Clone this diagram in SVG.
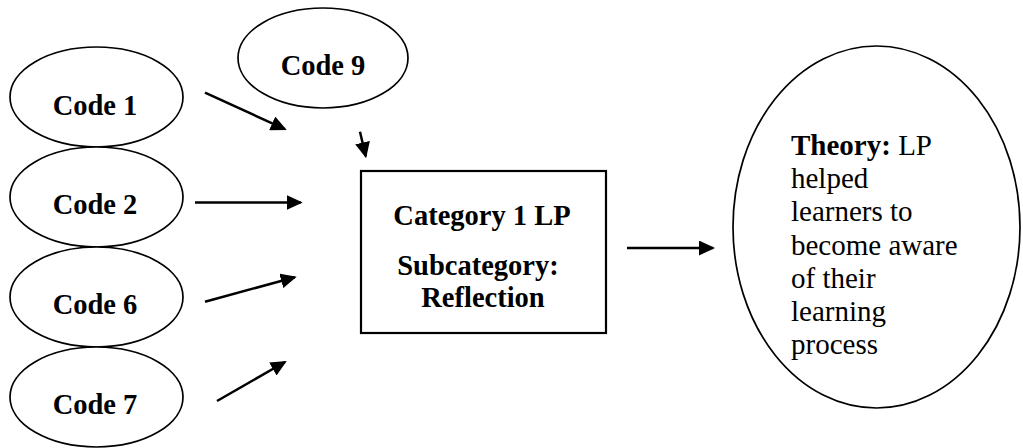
<svg xmlns="http://www.w3.org/2000/svg" width="1023" height="448" viewBox="0 0 1023 448">
  <style>
    .node { fill: #ffffff; stroke: #000000; stroke-width: 1.7; }
    .box { fill: #ffffff; stroke: #000000; stroke-width: 2.2; }
    .lbl { font-family: "Liberation Serif", "Times New Roman", serif; font-size: 28.5px; font-weight: bold; fill: #000000; }
    .th { font-family: "Liberation Serif", "Times New Roman", serif; font-size: 29px; fill: #000000; }
    .conn line { stroke: #000000; stroke-width: 2.5; }
  </style>
  <defs>
    <marker id="arrow" viewBox="0 0 16 15" refX="14" refY="7.5" markerWidth="16" markerHeight="15" markerUnits="userSpaceOnUse" orient="auto">
      <path d="M0,0 L16,7.5 L0,15 Z" fill="#000000"/>
    </marker>
  </defs>
  <rect width="1023" height="448" fill="#ffffff"/>

  <g id="code1">
    <ellipse class="node" cx="96.5" cy="97" rx="86.5" ry="50"/>
    <text class="lbl" x="95" y="114.5" text-anchor="middle">Code 1</text>
  </g>
  <g id="code2">
    <ellipse class="node" cx="96.5" cy="197" rx="86.5" ry="50"/>
    <text class="lbl" x="95" y="213.5" text-anchor="middle">Code 2</text>
  </g>
  <g id="code6">
    <ellipse class="node" cx="96.5" cy="297" rx="86.5" ry="50"/>
    <text class="lbl" x="95" y="313.5" text-anchor="middle">Code 6</text>
  </g>
  <g id="code7">
    <ellipse class="node" cx="96.5" cy="397" rx="86.5" ry="50"/>
    <text class="lbl" x="95" y="413.5" text-anchor="middle">Code 7</text>
  </g>
  <g id="code9">
    <ellipse class="node" cx="323" cy="58" rx="85" ry="50"/>
    <text class="lbl" x="323" y="75" text-anchor="middle">Code 9</text>
  </g>

  <g id="category">
    <rect class="box" x="361" y="171" width="245" height="162"/>
    <text class="lbl" x="482" y="225" text-anchor="middle">Category 1 LP</text>
    <text class="lbl" x="478" y="275" text-anchor="middle">Subcategory:</text>
    <text class="lbl" x="483" y="306.5" text-anchor="middle">Reflection</text>
  </g>

  <g id="theory">
    <ellipse class="node" cx="876.5" cy="227" rx="143.5" ry="181"/>
    <text class="th" x="791" y="155"><tspan font-weight="bold">Theory:</tspan> LP</text>
    <text class="th" x="791" y="188">helped</text>
    <text class="th" x="791" y="221">learners to</text>
    <text class="th" x="791" y="255">become aware</text>
    <text class="th" x="791" y="288">of their</text>
    <text class="th" x="791" y="321">learning</text>
    <text class="th" x="791" y="354">process</text>
  </g>

  <g id="connectors" class="conn">
    <line x1="205" y1="92.7" x2="284.9" y2="129.2" marker-end="url(#arrow)"/>
    <line x1="360" y1="131.7" x2="365.7" y2="156.3" marker-end="url(#arrow)"/>
    <line x1="195" y1="202.5" x2="300.7" y2="202.5" marker-end="url(#arrow)"/>
    <line x1="205" y1="301.7" x2="294.8" y2="277.2" marker-end="url(#arrow)"/>
    <line x1="217" y1="401" x2="285" y2="362" marker-end="url(#arrow)"/>
    <line x1="627" y1="248" x2="713" y2="248" marker-end="url(#arrow)"/>
  </g>
</svg>
